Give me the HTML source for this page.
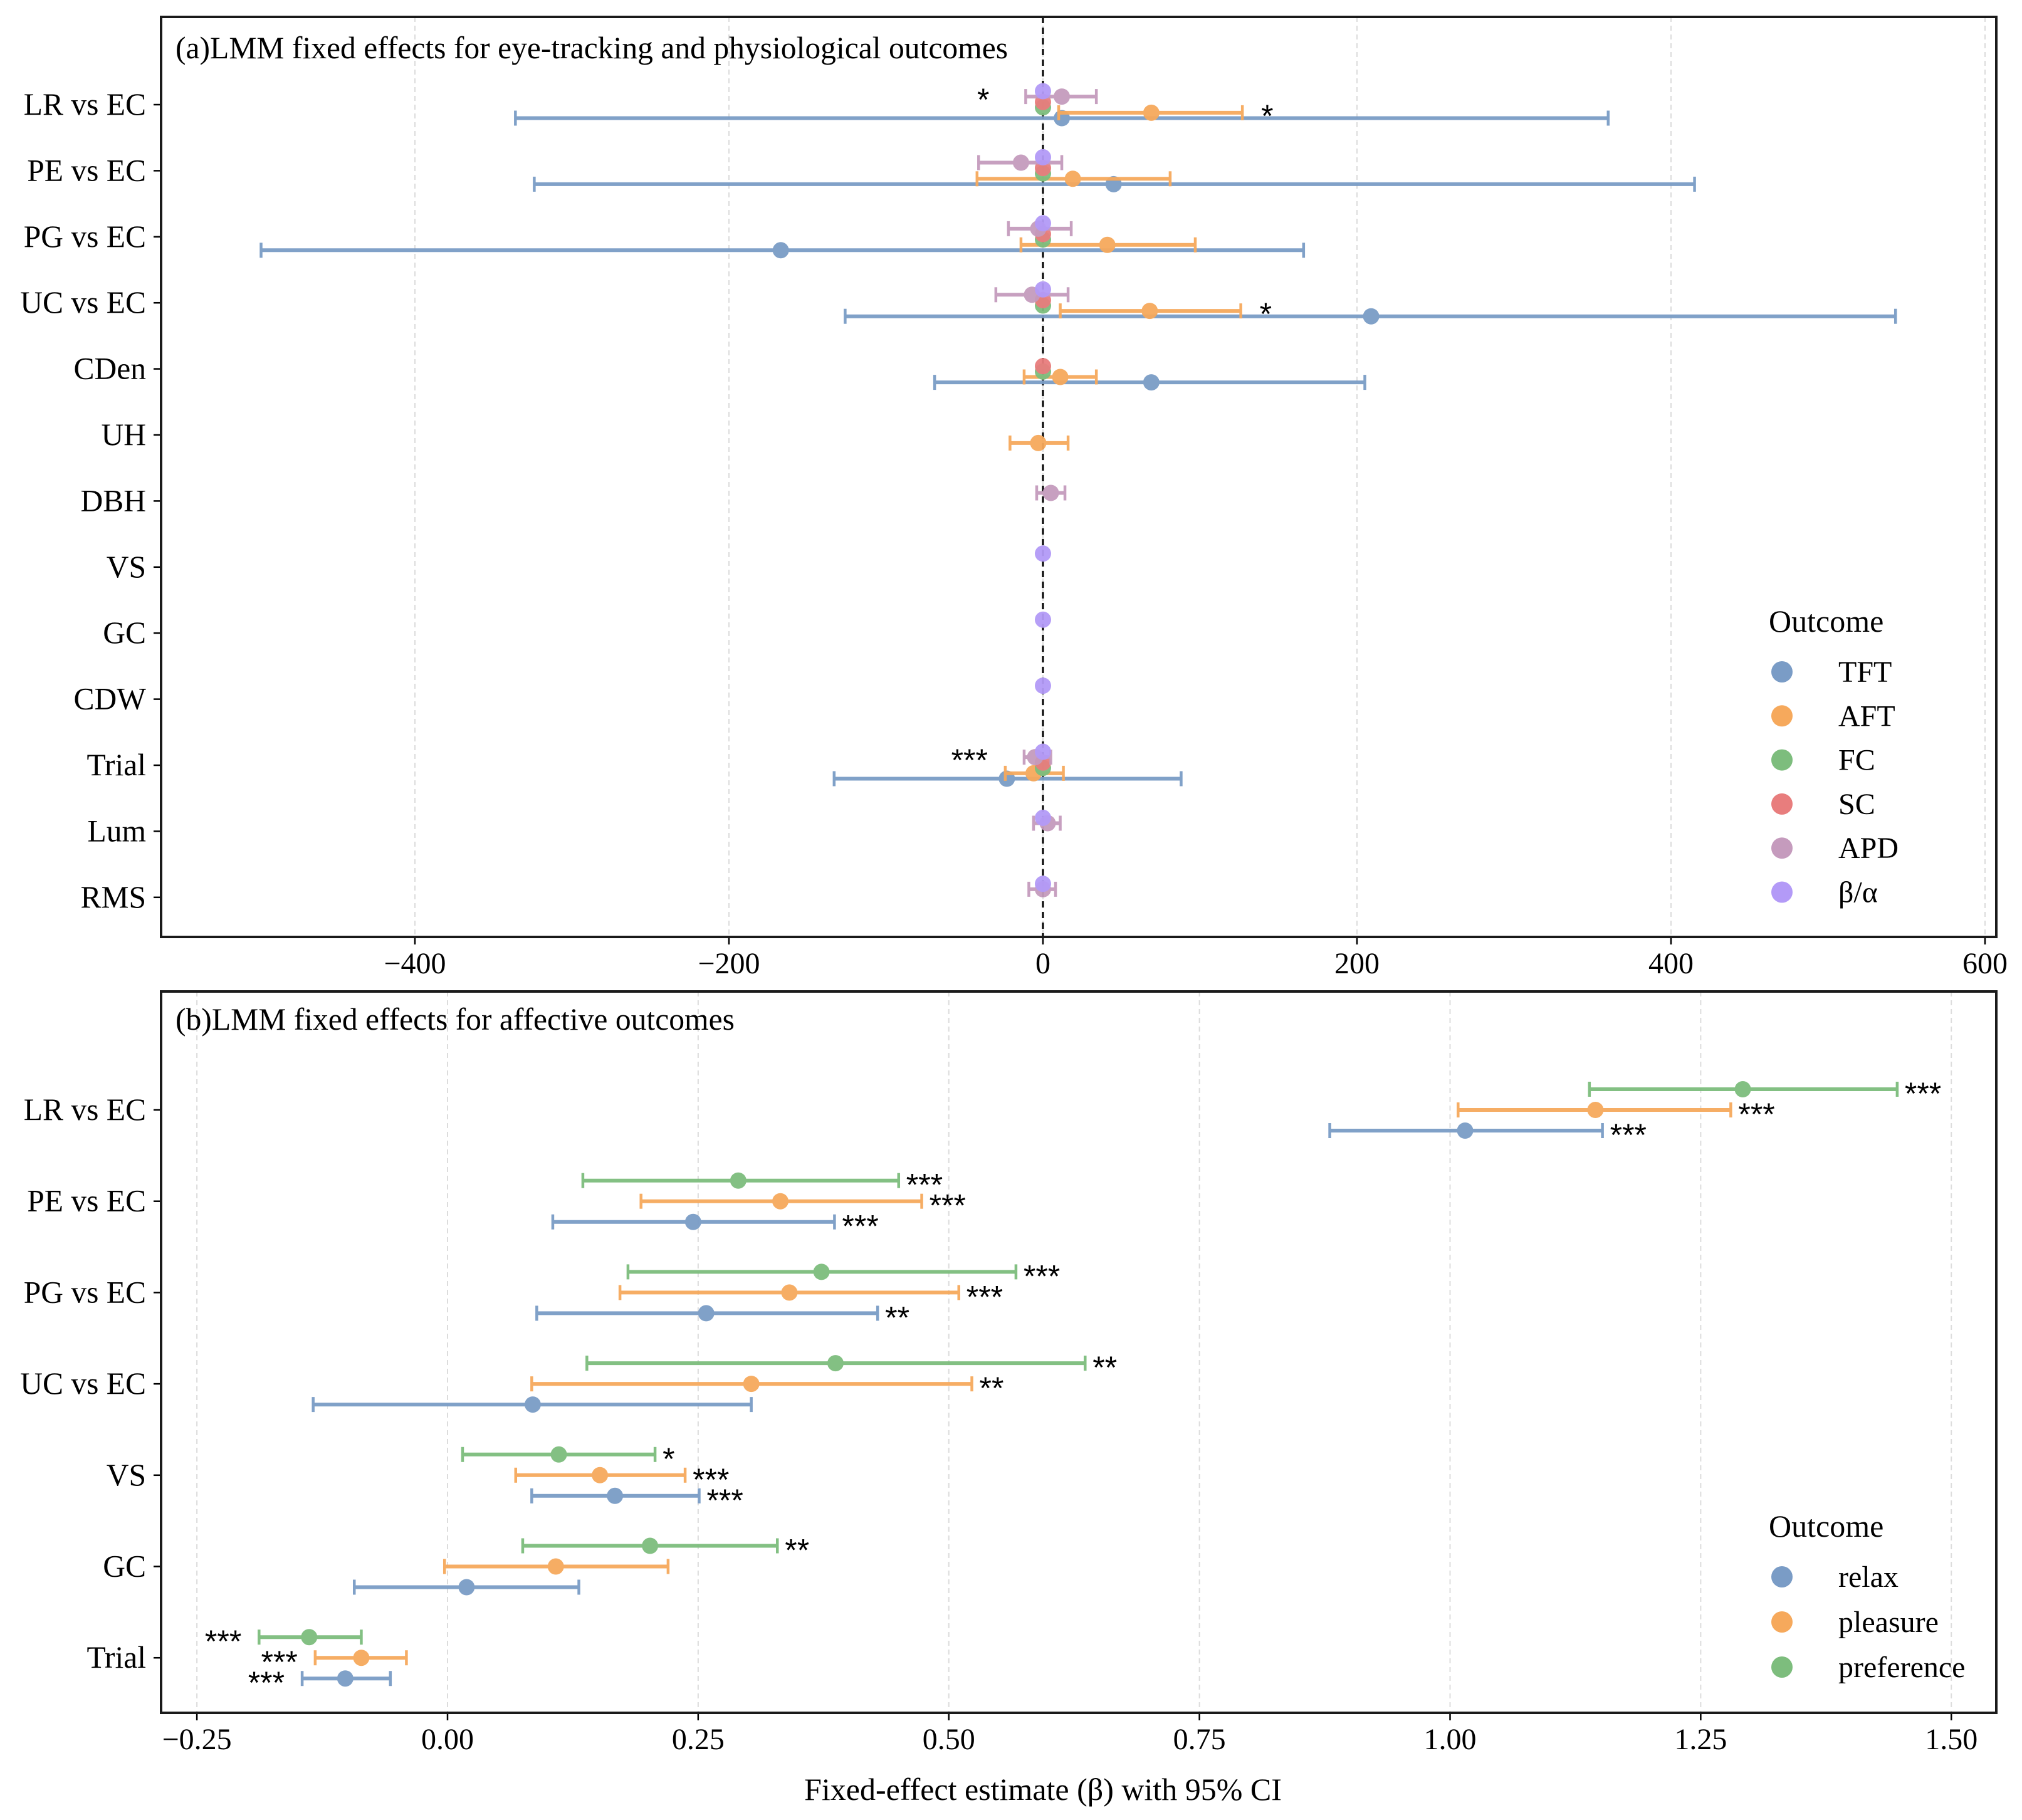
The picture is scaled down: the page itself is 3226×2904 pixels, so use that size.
<!DOCTYPE html>
<html><head><meta charset="utf-8">
<style>
html,body{margin:0;padding:0;background:#fff;}
svg{display:block;font-family:"Liberation Serif","DejaVu Serif",serif;}
</style></head>
<body>
<svg id="chart" width="3226" height="2904" viewBox="0 0 3226 2904" xmlns="http://www.w3.org/2000/svg"></svg>
<script>
// ---------- Panel (a) data ----------
const topCategories = ["LR vs EC","PE vs EC","PG vs EC","UC vs EC","CDen","UH","DBH","VS","GC","CDW","Trial","Lum","RMS"];
const topSeries = ["TFT","AFT","FC","SC","APD","β/α"];
const topColors = ["#7a9cc6","#f6a95c","#7dbd7d","#e87d7d","#c59bbd","#b39af7"];
const tftEst = [12,45,-167,209,69,null,null,null,null,null,-23,null,null];
const tftLo  = [-336,-324,-498,-126,-69,null,null,null,null,null,-133,null,null];
const tftHi  = [360,415,166,543,205,null,null,null,null,null,88,null,null];
const aftEst = [69,19,41,68,11,-3,null,null,null,null,-6,null,null];
const aftLo  = [10,-42,-14,11,-12,-21,null,null,null,null,-24,null,null];
const aftHi  = [127,81,97,126,34,16,null,null,null,null,13,null,null];
const fcEst  = [0,0,0,0,0,null,null,null,null,null,0,null,null];
const fcLo   = [-1,-1,-1,-1,-1,null,null,null,null,null,-1,null,null];
const fcHi   = [1,1,1,1,1,null,null,null,null,null,1,null,null];
const scEst  = [0,0,0,0,0,null,null,null,null,null,0,null,null];
const scLo   = [-1,-1,-1,-1,-1,null,null,null,null,null,-1,null,null];
const scHi   = [1,1,1,1,1,null,null,null,null,null,1,null,null];
const apdEst = [12,-14,-3,-7,null,null,5,null,null,null,-5,3,0];
const apdLo  = [-11,-41,-22,-30,null,null,-4,null,null,null,-12,-6,-9];
const apdHi  = [34,12,18,16,null,null,14,null,null,null,5,11,8];
const baEst  = [0,0,0,0,null,null,null,0,0,0,0,0,0];
const baLo   = [-1,-1,-1,-1,null,null,null,-1,-1,-1,-1,-1,-1];
const baHi   = [1,1,1,1,null,null,null,1,1,1,1,1,1];
const topTicks = [-400,-200,0,200,400,600];
const topTickLabels = ["−400","−200","0","200","400","600"];
const topStarCat = [0,0,3,10];
const topStarSeries = [4,1,1,4];
const topStarText = ["*","*","*","***"];
const topStarSide = ["left","right","right","left"];

// ---------- Panel (b) data ----------
const botCategories = ["LR vs EC","PE vs EC","PG vs EC","UC vs EC","VS","GC","Trial"];
const botSeries = ["relax","pleasure","preference"];
const botColors = ["#7a9cc6","#f6a95c","#7dbd7d"];
const relaxEst = [1.015,0.245,0.258,0.085,0.167,0.019,-0.102];
const relaxLo  = [0.880,0.105,0.089,-0.134,0.084,-0.093,-0.145];
const relaxHi  = [1.152,0.386,0.429,0.303,0.251,0.131,-0.057];
const pleasEst = [1.145,0.332,0.341,0.303,0.152,0.108,-0.086];
const pleasLo  = [1.008,0.193,0.172,0.084,0.068,-0.003,-0.132];
const pleasHi  = [1.280,0.473,0.510,0.523,0.237,0.220,-0.041];
const prefEst  = [1.292,0.290,0.373,0.387,0.111,0.202,-0.138];
const prefLo   = [1.139,0.135,0.180,0.139,0.015,0.075,-0.188];
const prefHi   = [1.446,0.450,0.567,0.636,0.207,0.329,-0.086];
const relaxStars = ["***","***","**","","***","","***"];
const pleasStars = ["***","***","***","**","***","","***"];
const prefStars  = ["***","***","***","**","*","**","***"];
const botStarLeft = [false,false,false,false,false,false,true];
const botTicks = [-0.25,0,0.25,0.5,0.75,1.0,1.25,1.5];
const botTickLabels = ["−0.25","0.00","0.25","0.50","0.75","1.00","1.25","1.50"];

const NS = "http://www.w3.org/2000/svg";
const svg = document.getElementById("chart");
function mk(tag, attrs, parent){
  const e = document.createElementNS(NS, tag);
  for (const k in attrs) e.setAttribute(k, attrs[k]);
  (parent||svg).appendChild(e);
  return e;
}

const T = {left:257, right:3185, top:27, bottom:1495};
const B = {left:257, right:3185, top:1582, bottom:2733};
const xT = v => 1664 + v*2.505;
const yT = i => 167 + i*105.4;
const offT = s => (2.5 - s)*8.6;
const xB = v => 714 + v*1599.5;
const yB = i => 1771 + i*145.7;
const offB = s => (1 - s)*33;

function drawPanelFrame(P, ticks, labels, xf, name){
  const g = mk("g", {});
  
  
  ticks.forEach((t,i)=>{
    const x = xf(t);
    const gl = mk("line",{x1:x,x2:x,y1:P.top,y2:P.bottom,stroke:"#dcdcdc","stroke-width":2,"stroke-dasharray":"8,6"},g);
    
    
    const tk = mk("line",{x1:x,x2:x,y1:P.bottom,y2:P.bottom+12,stroke:"#000","stroke-width":2.5});
    
    
    const tl = mk("text",{x:x,y:P.bottom+58,"text-anchor":"middle","font-size":48,fill:"#000"});
    tl.textContent = labels[i];
    
    
  });
}
function drawFrameBox(P, name){
  const r = mk("rect",{x:P.left,y:P.top,width:P.right-P.left,height:P.bottom-P.top,fill:"none",stroke:"#1a1a1a","stroke-width":4});
  
  
}
function drawYLabels(cats, yf, name){
  cats.forEach((c,i)=>{
    const y = yf(i);
    const t = mk("line",{x1:245,x2:257,y1:y,y2:y,stroke:"#000","stroke-width":2.5});
    
    
    const l = mk("text",{x:233,y:y+16,"text-anchor":"end","font-size":49.5,fill:"#000"});
    l.textContent = c;
    
    
  });
}
function drawErr(x1,x2,xc,y,color,name){
  const g = mk("g",{opacity:0.95});
  
  
  mk("line",{x1:x1,x2:x2,y1:y,y2:y,stroke:color,"stroke-width":6},g);
  mk("line",{x1:x1,x2:x1,y1:y-12,y2:y+12,stroke:color,"stroke-width":4.5},g);
  mk("line",{x1:x2,x2:x2,y1:y-12,y2:y+12,stroke:color,"stroke-width":4.5},g);
  mk("circle",{cx:xc,cy:y,r:13,fill:color},g);
}

// ---------- Panel (a) ----------
drawPanelFrame(T, topTicks, topTickLabels, xT, "panel-a");
const zl = mk("line",{x1:xT(0),x2:xT(0),y1:T.top,y2:T.bottom,stroke:"#000","stroke-width":3,"stroke-dasharray":"10,7"});


const topData = [[tftEst,tftLo,tftHi],[aftEst,aftLo,aftHi],[fcEst,fcLo,fcHi],[scEst,scLo,scHi],[apdEst,apdLo,apdHi],[baEst,baLo,baHi]];
topData.forEach((d,s)=>{
  d[0].forEach((v,i)=>{
    if (v===null) return;
    drawErr(xT(d[1][i]), xT(d[2][i]), xT(v), yT(i)+offT(s), topColors[s], 'point-'+topSeries[s].toLowerCase().replace('/','-')+'-'+i);
  });
});
topStarCat.forEach((c,k)=>{
  const s = topStarSeries[k];
  const d = topData[s];
  const y = yT(c)+offT(s)+22;
  const left = topStarSide[k]==="left";
  const x = left ? xT(d[1][c])-58 : xT(d[2][c])+30;
  const t = mk("text",{x:x,y:y,"text-anchor":left?"end":"start","font-size":50,"font-family":"Liberation Sans, sans-serif",fill:"#000"});
  t.textContent = topStarText[k];
  
  
});
drawYLabels(topCategories, yT, "panel-a");
drawFrameBox(T, "panel-a");
const ta = mk("text",{x:280,y:93,"font-size":49.6,fill:"#000"});
ta.textContent = "(a)LMM fixed effects for eye-tracking and physiological outcomes";


const lgA = mk("g",{});


const lgAt = mk("text",{x:2822,y:1008,"font-size":50,fill:"#000"},lgA);
lgAt.textContent = "Outcome";


topSeries.forEach((s,i)=>{
  const y = 1072 + i*70.3;
  const e = mk("g",{},lgA);
  
  
  mk("circle",{cx:2843,cy:y,r:17,fill:topColors[i]},e);
  const t = mk("text",{x:2933,y:y+16,"font-size":48,fill:"#000"},e);
  t.textContent = s;
});

// ---------- Panel (b) ----------
drawPanelFrame(B, botTicks, botTickLabels, xB, "panel-b");
const botData = [[relaxEst,relaxLo,relaxHi,relaxStars],[pleasEst,pleasLo,pleasHi,pleasStars],[prefEst,prefLo,prefHi,prefStars]];
botData.forEach((d,s)=>{
  d[0].forEach((v,i)=>{
    const y = yB(i)+offB(s);
    drawErr(xB(d[1][i]), xB(d[2][i]), xB(v), y, botColors[s], 'point-'+botSeries[s]+'-'+i);
    if (d[3][i]){
      const left = botStarLeft[i];
      const x = left ? xB(d[1][i])-28 : xB(d[2][i])+12;
      const t = mk("text",{x:x,y:y+24,"text-anchor":left?"end":"start","font-size":50,"font-family":"Liberation Sans, sans-serif",fill:"#000"});
      t.textContent = d[3][i];
      
      
    }
  });
});
drawYLabels(botCategories, yB, "panel-b");
drawFrameBox(B, "panel-b");
const tb = mk("text",{x:280,y:1643,"font-size":49.6,fill:"#000"});
tb.textContent = "(b)LMM fixed effects for affective outcomes";


const lgB = mk("g",{});


const lgBt = mk("text",{x:2822,y:2452,"font-size":50,fill:"#000"},lgB);
lgBt.textContent = "Outcome";


botSeries.forEach((s,i)=>{
  const y = 2516 + i*72;
  const e = mk("g",{},lgB);
  
  
  mk("circle",{cx:2843,cy:y,r:17,fill:botColors[i]},e);
  const t = mk("text",{x:2933,y:y+16,"font-size":48,fill:"#000"},e);
  t.textContent = s;
});
const xl = mk("text",{x:1664,y:2872,"text-anchor":"middle","font-size":50,fill:"#000"});
xl.textContent = "Fixed-effect estimate (β) with 95% CI";


</script>
</body></html>
